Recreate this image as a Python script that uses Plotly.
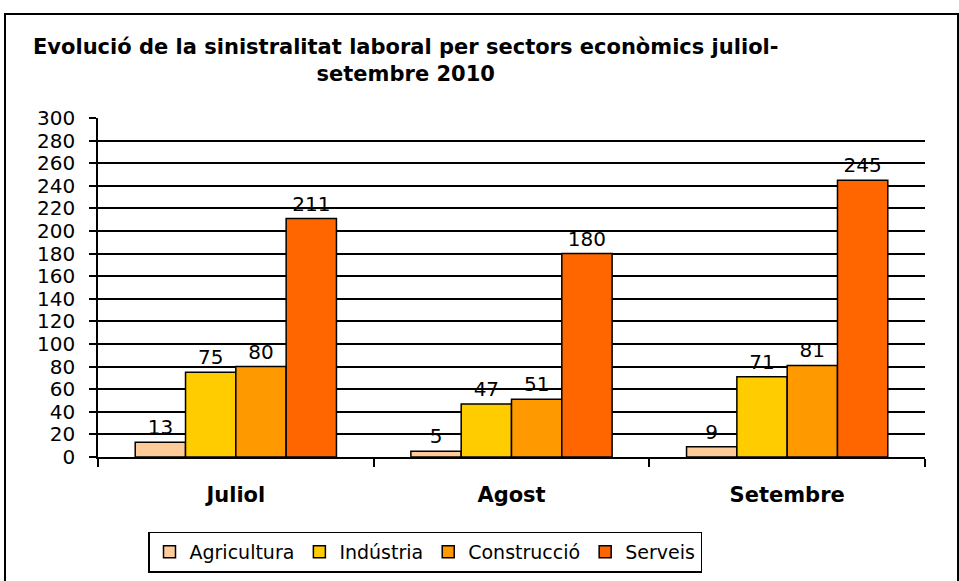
import plotly.graph_objects as go

categories = ["Juliol", "Agost", "Setembre"]
series_names = ["Agricultura", "Indústria", "Construcció", "Serveis"]
agricultura = [13, 5, 9]
industria = [75, 47, 71]
construccio = [80, 51, 81]
serveis = [211, 180, 245]
colors = ["#FFCC99", "#FFCC00", "#FF9900", "#FF6600"]
y_ticks = list(range(0, 301, 20))

W, H = 959, 581
L, R, T, B = 98, 34, 118, 124
FONT = "DejaVu Sans"

fig = go.Figure()
for name, vals, col in zip(series_names, [agricultura, industria, construccio, serveis], colors):
    fig.add_trace(go.Bar(
        x=categories, y=vals, name=name,
        marker=dict(color=col, line=dict(color="black", width=1.5)),
        text=[str(v) for v in vals], textposition="outside",
        textfont=dict(family=FONT, size=20, color="black"),
        cliponaxis=False,
    ))

pw = W - L - R
ph = H - T - B
def px(x):
    return (x - L) / pw
def py(y):
    return (H - B - y) / ph

fig.update_layout(
    width=W, height=H,
    margin=dict(l=L, r=R, t=T, b=B, autoexpand=False),
    paper_bgcolor="white", plot_bgcolor="white",
    barmode="group", bargap=0.27, bargroupgap=0,
    font=dict(family=FONT, color="black"),
    showlegend=True,
    legend=dict(
        orientation="h", x=px(425), xanchor="center", y=py(552), yanchor="middle",
        bordercolor="black", borderwidth=1.5, bgcolor="white",
        font=dict(family=FONT, size=19, color="black"),
        itemwidth=30, traceorder="normal",
    ),
    xaxis=dict(
        showline=True, linecolor="black", linewidth=1.5,
        ticks="outside", tickson="boundaries", ticklen=8, tickcolor="black", tickwidth=1.5,
        tickfont=dict(family=FONT, size=21, color="black", weight="bold"),
        ticklabelstandoff=18,
        showgrid=False, automargin=False,
    ),
    yaxis=dict(
        range=[0, 300], tickvals=y_ticks,
        showline=True, linecolor="black", linewidth=1.5,
        ticks="outside", ticklen=7, tickcolor="black", tickwidth=1.5,
        tickfont=dict(family=FONT, size=20, color="black"),
        ticklabelstandoff=10,
        showgrid=True, gridcolor="black", gridwidth=1.5,
        zeroline=False, automargin=False,
    ),
    annotations=[
        dict(text="<b>Evolució de la sinistralitat laboral per sectors econòmics juliol-<br>setembre 2010</b>",
             xref="paper", yref="paper", x=px(405), y=py(60), xanchor="center", yanchor="middle",
             showarrow=False, font=dict(family=FONT, size=21, color="black"), align="center"),
    ],
    shapes=[
        dict(type="rect", xref="paper", yref="paper",
             x0=px(5), x1=px(958), y0=py(585), y1=py(14),
             line=dict(color="black", width=2), fillcolor="rgba(0,0,0,0)", layer="below"),
    ],
)

fig.write_html("out.html", config={"displayModeBar": False},
               post_script="document.body.style.margin='0';document.body.style.overflow='hidden';")
